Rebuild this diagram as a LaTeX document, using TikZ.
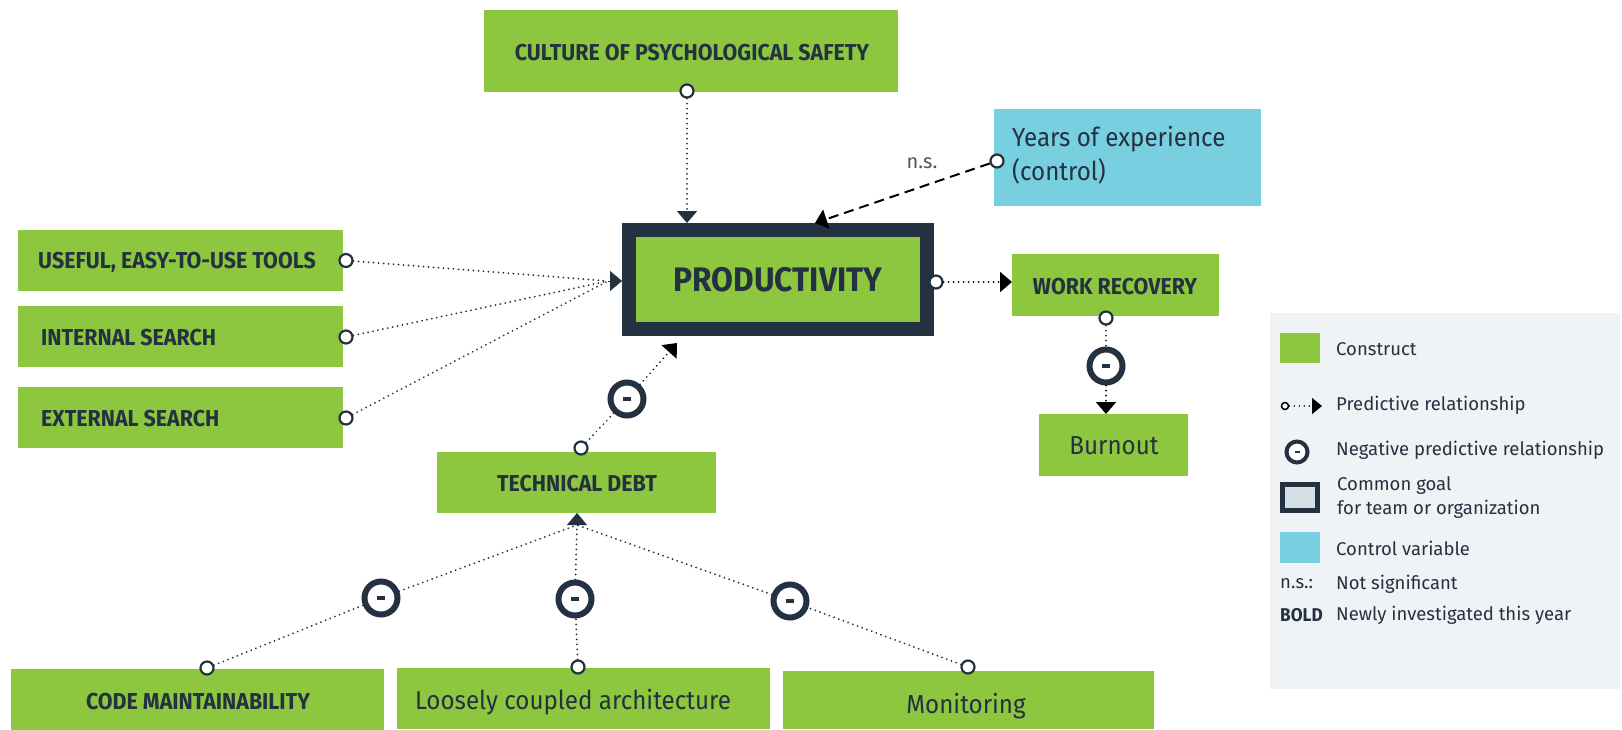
\documentclass[tikz,border=0pt]{standalone}
\usepackage{fontspec}
\setmainfont{Fira Sans}
\newfontfamily\condfont[FakeStretch=0.93]{Fira Sans}
\newfontfamily\regfont[FakeStretch=0.93]{Fira Sans}
\usetikzlibrary{arrows.meta,calc}
\definecolor{cgreen}{HTML}{8DC63F}
\definecolor{navy}{HTML}{233140}
\definecolor{ccyan}{HTML}{78CFE0}
\definecolor{legbg}{HTML}{EFF3F6}
\definecolor{goalfill}{HTML}{D6DEE5}
\definecolor{nsgray}{HTML}{4A5560}
\tikzset{
  box/.style={fill=cgreen, inner sep=0pt, outer sep=0pt, text=navy},
  boldlab/.style={font=\condfont\bfseries\fontsize{23}{26}\selectfont, text=navy, inner sep=0pt},
  reglab/.style={font=\regfont\fontsize{26}{34}\selectfont, text=navy, inner sep=0pt},
  legtxt/.style={font=\fontsize{18.5}{23}\selectfont, text=navy, inner sep=0pt, anchor=west},
  dotline/.style={navy, line width=2pt, dash pattern=on 0.01pt off 5pt, line cap=round},
  dashline/.style={black, line width=2pt, dash pattern=on 10pt off 6pt},
  opencirc/.style={circle, draw=navy, fill=white, line width=2.2pt, minimum size=13pt, inner sep=0pt},
  smallcirc/.style={circle, draw=black, fill=white, line width=1.5pt, minimum size=7pt, inner sep=0pt},
  negcirc/.style={circle, draw=navy, fill=white, line width=6pt, minimum size=33pt, inner sep=0pt, text=navy},
  negsmall/.style={circle, draw=navy, fill=white, line width=4pt, minimum size=21pt, inner sep=0pt, text=navy},
  tiphead/.style={-{Triangle[length=12pt,width=20pt]}},
  tipsmall/.style={-{Triangle[length=10pt,width=16pt]}},
}
\begin{document}
\begin{tikzpicture}[x=1pt,y=-1pt]
\useasboundingbox (0,0) rectangle (1622,729);

% ---------- boxes ----------
\node[box, minimum width=414pt, minimum height=82pt] (culture) at (691,51) {};
\node[boldlab] (culturet) at (692,53) {CULTURE OF PSYCHOLOGICAL SAFETY};

\node[box, fill=ccyan, minimum width=267pt, minimum height=97pt] (years) at (1127.5,157.5) {};
\node[reglab, anchor=base west] (yearst1) at (1012,146) {Years of experience};
\node[reglab, anchor=base west] (yearst2) at (1012,180) {(control)};

\node[fill=cgreen, draw=navy, line width=14pt, minimum width=298pt, minimum height=99pt, inner sep=0pt,
      font=\condfont\bfseries\fontsize{34}{38}\selectfont, text=navy] (prod) at (778,279.5) {PRODUCTIVITY};

\node[box, minimum width=207pt, minimum height=62pt] (workrec) at (1115.5,285) {};
\node[boldlab] (workrect) at (1115,287) {WORK RECOVERY};

\node[box, minimum width=149pt, minimum height=62pt] (burnout) at (1113.5,445) {};
\node[reglab] (burnoutt) at (1114,446) {Burnout};

\node[box, minimum width=325pt, minimum height=61pt] (useful) at (180.5,260.5) {};
\node[boldlab, anchor=west] (usefult) at (38,262) {USEFUL, EASY-TO-USE TOOLS};
\node[box, minimum width=325pt, minimum height=61pt] (internal) at (180.5,336.5) {};
\node[boldlab, anchor=west] (internalt) at (41,338) {INTERNAL SEARCH};
\node[box, minimum width=325pt, minimum height=61pt] (external) at (180.5,417) {};
\node[boldlab, anchor=west] (externalt) at (41,419) {EXTERNAL SEARCH};

\node[box, minimum width=279pt, minimum height=61pt] (techdebt) at (576.5,482.5) {};
\node[boldlab] (techdebtt) at (577,484) {TECHNICAL DEBT};

\node[box, minimum width=373pt, minimum height=61pt] (codem) at (197.5,699.5) {};
\node[boldlab] (codemt) at (198,702) {CODE MAINTAINABILITY};
\node[box, minimum width=373pt, minimum height=61pt] (loose) at (583.5,698.5) {};
\node[reglab] (looset) at (573,702) {Loosely coupled architecture};
\node[box, minimum width=371pt, minimum height=58pt] (monit) at (968.5,700) {};
\node[reglab] (monitt) at (966,706) {Monitoring};

% ---------- helper coordinates ----------
\coordinate (lb) at (608,281);
\coordinate (tb) at (577,525);
\coordinate (ptip) at (677,343);

% ---------- circles ----------
\node[opencirc] (cc) at (687,91) {};
\node[opencirc] (yc) at (997,161) {};
\node[opencirc] (uc) at (346,260.5) {};
\node[opencirc] (ic) at (346,337) {};
\node[opencirc] (ec) at (346,418) {};
\node[opencirc] (pc) at (936,282) {};
\node[opencirc] (wrc) at (1106,318) {};
\node[opencirc] (tdc) at (581,448) {};
\node[opencirc] (cmc) at (207,668) {};
\node[opencirc] (lcc) at (578,667) {};
\node[opencirc] (mnc) at (968,667) {};

\node[negcirc] (wrneg) at (1106,366) {\rule{8pt}{3.5pt}};
\node[negcirc] (tdneg) at (627,399) {\rule{8pt}{3.5pt}};
\node[negcirc] (cmneg) at (381,598) {\rule{8pt}{3.5pt}};
\node[negcirc] (lcneg) at (575,599) {\rule{8pt}{3.5pt}};
\node[negcirc] (mnneg) at (790,601) {\rule{8pt}{3.5pt}};

% ---------- connectors ----------
\draw[dotline, tiphead, navy] (cc) -- (cc |- prod.north);
\draw[dashline, tiphead] (yc) -- (815,0 |- prod.north);
\node[font=\fontsize{20}{23}\selectfont, text=nsgray, inner sep=0pt] (ns) at (922,163) {n.s.};

\draw[dotline] (uc) -- (lb);
\draw[dotline] (ic) -- (lb);
\draw[dotline] (ec) -- (lb);
\draw[navy, tiphead] (lb) -- (prod.west |- lb);

\draw[dotline, tiphead, black] (pc) -- (pc -| workrec.west);
\draw[dotline] (wrc) -- (wrneg);
\draw[dotline, tiphead, black] (wrneg) -- (wrneg |- burnout.north);

\draw[dotline] (tdc) -- (tdneg);
\draw[dotline, tiphead, black] (tdneg) -- (ptip);

\draw[dotline] (cmc) -- (cmneg);
\draw[dotline] (cmneg) -- (tb);
\draw[dotline] (lcc) -- (lcneg);
\draw[dotline] (lcneg) -- (tb);
\draw[dotline] (mnc) -- (mnneg);
\draw[dotline] (mnneg) -- (tb);
\draw[navy, tiphead] (tb) -- (tb |- techdebt.south);

% ---------- legend ----------
\node[fill=legbg, minimum width=350pt, minimum height=376pt, inner sep=0pt] (legend) at (1445,501) {};
\node[fill=cgreen, minimum width=40pt, minimum height=30pt, inner sep=0pt] (lgc) at (1300,348) {};
\node[legtxt] (lt1) at (1336,349) {Construct};
\node[smallcirc] (lpc) at (1285,406) {};
\coordinate (lpe) at (1322,406);
\draw[black, line width=1.5pt, dash pattern=on 0.01pt off 5pt, line cap=round, tipsmall] (lpc) -- (lpe);
\node[legtxt] (lt2) at (1336,405) {Predictive relationship};
\node[negsmall] (lneg) at (1297,452) {\rule{5pt}{2.5pt}};
\node[legtxt] (lt3) at (1336,450) {Negative predictive relationship};
\node[fill=goalfill, draw=navy, line width=5pt, minimum width=35pt, minimum height=26pt, inner sep=0pt] (lgoal) at (1300,497.5) {};
\node[legtxt] (lt4a) at (1337,486) {Common goal};
\node[legtxt] (lt4b) at (1337,509) {for team or organization};
\node[fill=ccyan, minimum width=40pt, minimum height=31pt, inner sep=0pt] (lctl) at (1300,547.5) {};
\node[legtxt] (lt5) at (1336,548) {Control variable};
\node[legtxt] (lns) at (1280,584) {n.s.:};
\node[legtxt] (lt6) at (1336,584) {Not significant};
\node[legtxt, font=\condfont\bfseries\fontsize{18.5}{22}\selectfont] (lbold) at (1280,615) {BOLD};
\node[legtxt] (lt7) at (1336,615) {Newly investigated this year};
\end{tikzpicture}
\end{document}
